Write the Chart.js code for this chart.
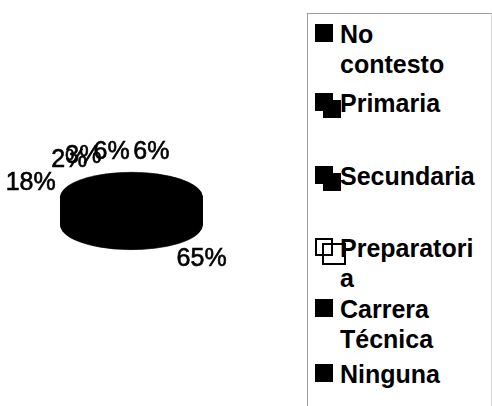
<!DOCTYPE html>
<html><head><meta charset="utf-8">
<script src="https://cdn.jsdelivr.net/npm/chart.js@4/dist/chart.umd.min.js"></script>
<style>
html,body{margin:0;padding:0;background:#fff;width:492px;height:406px;overflow:hidden;position:relative;font-family:"Liberation Sans",Arial,sans-serif;}
#wrap{position:absolute;left:0;top:0;width:300px;height:406px;}
#legend{position:absolute;left:307px;top:13px;width:183px;height:410px;border:1px solid #9a9a9a;border-right-color:#d8d8d8;}
.item{position:absolute;left:0;font-weight:bold;font-size:25px;line-height:30px;color:#000;}
.sw{position:absolute;left:7px;top:5px;width:18px;height:18px;background:#000;}
.sw.dbl{box-shadow:8px 7px 0 0 #000;}
.sw.open{background:#fff;border:2px solid #000;width:14px;height:14px;}
.sw.open::after{content:"";position:absolute;left:5px;top:3px;width:20px;height:18px;border:2px solid #000;}
.txt{position:absolute;left:32px;top:0;width:140px;overflow-wrap:anywhere;}
</style>
</head><body>
<div id="wrap"><canvas id="c"></canvas></div>
<div id="legend"></div>
<script>
const categories = ['No contesto','Primaria','Secundaria','Preparatoria','Carrera Técnica','Ninguna'];
const values = [6, 65, 18, 2, 3, 6];
const sliceColors = ['#000000','#000000','#000000','#000000','#000000','#000000'];

// layout (style only)
const legendTops = [5, 74, 147, 219, 280, 345];
const swatchStyle = ['', 'dbl', 'dbl', 'open', '', ''];
const DEPTH = 28, SY = 25/72, LRX = 106, LRY = 46;

const legend = document.getElementById('legend');
categories.forEach((name, i) => {
  const it = document.createElement('div');
  it.className = 'item';
  it.style.top = legendTops[i] + 'px';
  const sw = document.createElement('div');
  sw.className = 'sw ' + swatchStyle[i];
  const tx = document.createElement('div');
  tx.className = 'txt';
  tx.textContent = name;
  it.appendChild(sw); it.appendChild(tx);
  legend.appendChild(it);
});

const pie3d = {
  id: 'pie3d',
  beforeDatasetsDraw(chart) {
    const ctx = chart.ctx, arcs = chart.getDatasetMeta(0).data;
    const cx = arcs[0].x, cy = arcs[0].y;
    for (let d = DEPTH; d > 0; d--) {
      ctx.save();
      ctx.translate(cx, cy + d); ctx.scale(1, SY); ctx.translate(-cx, -cy);
      arcs.forEach(a => a.draw(ctx));
      ctx.restore();
    }
    ctx.save();
    ctx.translate(cx, cy); ctx.scale(1, SY); ctx.translate(-cx, -cy);
  },
  afterDatasetsDraw(chart) {
    const ctx = chart.ctx, arcs = chart.getDatasetMeta(0).data;
    ctx.restore();
    const cx = arcs[0].x, cy = arcs[0].y;
    const total = values.reduce((s, v) => s + v, 0);
    ctx.save();
    ctx.font = '25px "Liberation Sans", Arial, sans-serif';
    ctx.fillStyle = '#000';
    ctx.strokeStyle = '#000';
    ctx.lineWidth = 0.6;
    ctx.textAlign = 'center';
    ctx.textBaseline = 'middle';
    arcs.forEach((a, i) => {
      const mid = (a.startAngle + a.endAngle) / 2;
      const x = cx + Math.cos(mid) * LRX;
      let y = cy + Math.sin(mid) * LRY;
      if (Math.sin(mid) > 0) y += DEPTH;
      const t = Math.round(values[i] / total * 100) + '%';
      ctx.fillText(t, x, y);
      ctx.strokeText(t, x, y);
    });
    ctx.restore();
  }
};

new Chart(document.getElementById('c'), {
  type: 'pie',
  data: {
    labels: categories,
    datasets: [{ data: values, backgroundColor: sliceColors, borderColor: '#000', borderWidth: 1 }]
  },
  options: {
    responsive: true,
    maintainAspectRatio: false,
    animation: false,
    events: [],
    layout: { padding: { left: 60, right: 97, top: 125, bottom: 137 } },
    plugins: { legend: { display: false }, tooltip: { enabled: false } }
  },
  plugins: [pie3d]
});
</script>
</body></html>
